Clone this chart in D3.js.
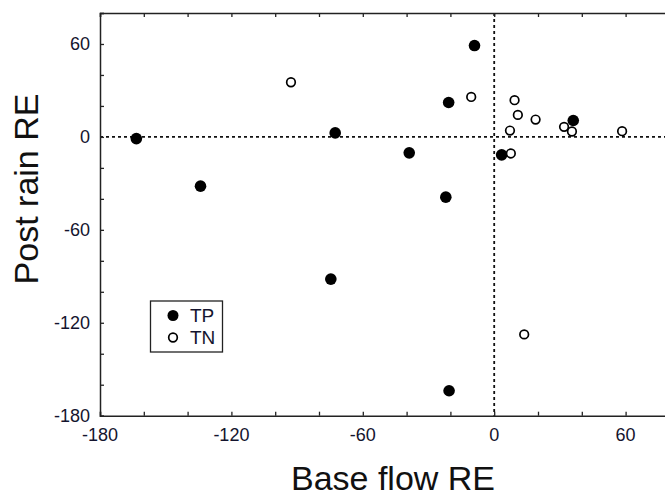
<!DOCTYPE html>
<html><head><meta charset="utf-8">
<script src="https://cdn.jsdelivr.net/npm/d3@7"></script>
<style>body{margin:0;background:#fff}svg{display:block}</style>
</head><body>
<script>
const tpX = [-163.4, -134.1, -9.0, -20.8, -72.6, -38.8, -22.1, 3.4, 36.1, -74.6, -20.6];
const tpY = [-1.1, -31.8, 59.0, 22.2, 2.6, -10.3, -38.9, -11.6, 10.6, -91.8, -163.9];
const tnX = [-92.8, -10.5, 9.3, 10.8, 18.9, 7.2, 31.9, 35.5, 58.4, 7.6, 13.7];
const tnY = [35.3, 25.8, 23.7, 14.2, 11.2, 4.1, 6.5, 3.5, 3.7, -10.7, -127.5];
const xLabelTicks = [-180, -120, -60, 0, 60];
const yLabelTicks = [-180, -120, -60, 0, 60];
const legendLabels = ["TP", "TN"];

(function () {
const W = 665, H = 496;
const svg = d3.select("body").append("svg").attr("width", W).attr("height", H);
svg.append("rect").attr("width", W).attr("height", H).attr("fill", "#fff");

const x = d3.scaleLinear().domain([-180, 80]).range([100, 669.4]);
const y = d3.scaleLinear().domain([-180, 80]).range([415.7, 13]);
const minor = d3.range(-180, 81, 20);
const axisCol = "#222";
const font = "Liberation Sans, Arial, sans-serif";

// zero reference lines
svg.append("line").attr("x1", x(-180)).attr("x2", W).attr("y1", y(0)).attr("y2", y(0))
  .attr("stroke", "#111").attr("stroke-width", 1.8).attr("stroke-dasharray", "3,3");
svg.append("line").attr("x1", x(0)).attr("x2", x(0)).attr("y1", y(80)).attr("y2", y(-180))
  .attr("stroke", "#111").attr("stroke-width", 1.8).attr("stroke-dasharray", "3,3");

// axes with inward ticks
const gBottom = svg.append("g").attr("transform", `translate(0,${y(-180)})`)
  .call(d3.axisTop(x).tickValues(minor).tickSize(4).tickFormat(""));
const gTop = svg.append("g").attr("transform", `translate(0,${y(80)})`)
  .call(d3.axisBottom(x).tickValues(minor).tickSize(4).tickFormat(""));
const gLeft = svg.append("g").attr("transform", `translate(${x(-180)},0)`)
  .call(d3.axisRight(y).tickValues(minor).tickSize(4).tickFormat(""));
[gBottom, gTop, gLeft].forEach(g => {
  g.select(".domain").attr("stroke", axisCol).attr("stroke-width", 1.5);
  g.selectAll(".tick line").attr("stroke", axisCol).attr("stroke-width", 1.3);
});

// tick labels
svg.append("g").selectAll("text").data(xLabelTicks).join("text")
  .attr("x", d => x(d)).attr("y", y(-180) + 25)
  .attr("text-anchor", "middle").attr("font-family", font).attr("font-size", 18)
  .attr("fill", "#14142e").text(d => d);
svg.append("g").selectAll("text").data(yLabelTicks).join("text")
  .attr("x", 90).attr("y", d => y(d)).attr("dy", "0.35em")
  .attr("text-anchor", "end").attr("font-family", font).attr("font-size", 18)
  .attr("fill", "#14142e").text(d => d);

// axis titles
svg.append("text").attr("x", 393).attr("y", 490).attr("text-anchor", "middle")
  .attr("font-family", font).attr("font-size", 34).attr("fill", "#111").text("Base flow RE");
svg.append("text").attr("transform", "translate(38,189) rotate(-90)").attr("text-anchor", "middle")
  .attr("font-family", font).attr("font-size", 34).attr("fill", "#111").text("Post rain RE");

// points
const tp = tpX.map((v, i) => [v, tpY[i]]);
const tn = tnX.map((v, i) => [v, tnY[i]]);
svg.append("g").selectAll("circle").data(tp).join("circle")
  .attr("cx", d => x(d[0])).attr("cy", d => y(d[1])).attr("r", 5.8).attr("fill", "#000");
svg.append("g").selectAll("circle").data(tn).join("circle")
  .attr("cx", d => x(d[0])).attr("cy", d => y(d[1])).attr("r", 4.3)
  .attr("fill", "#fff").attr("stroke", "#000").attr("stroke-width", 1.7);

// legend
const lg = svg.append("g");
lg.append("rect").attr("x", 150.5).attr("y", 301).attr("width", 72).attr("height", 51)
  .attr("fill", "#fff").attr("stroke", "#222").attr("stroke-width", 1.3);
lg.append("circle").attr("cx", 173).attr("cy", 315.5).attr("r", 5.5).attr("fill", "#000");
lg.append("circle").attr("cx", 173).attr("cy", 337.5).attr("r", 4.3).attr("fill", "#fff")
  .attr("stroke", "#000").attr("stroke-width", 1.7);
lg.selectAll("text").data(legendLabels).join("text")
  .attr("x", 190).attr("y", (d, i) => 315.5 + i * 22).attr("dy", "0.36em")
  .attr("font-family", font).attr("font-size", 19).attr("fill", "#14142e").text(d => d);
})();
</script>
</body></html>
